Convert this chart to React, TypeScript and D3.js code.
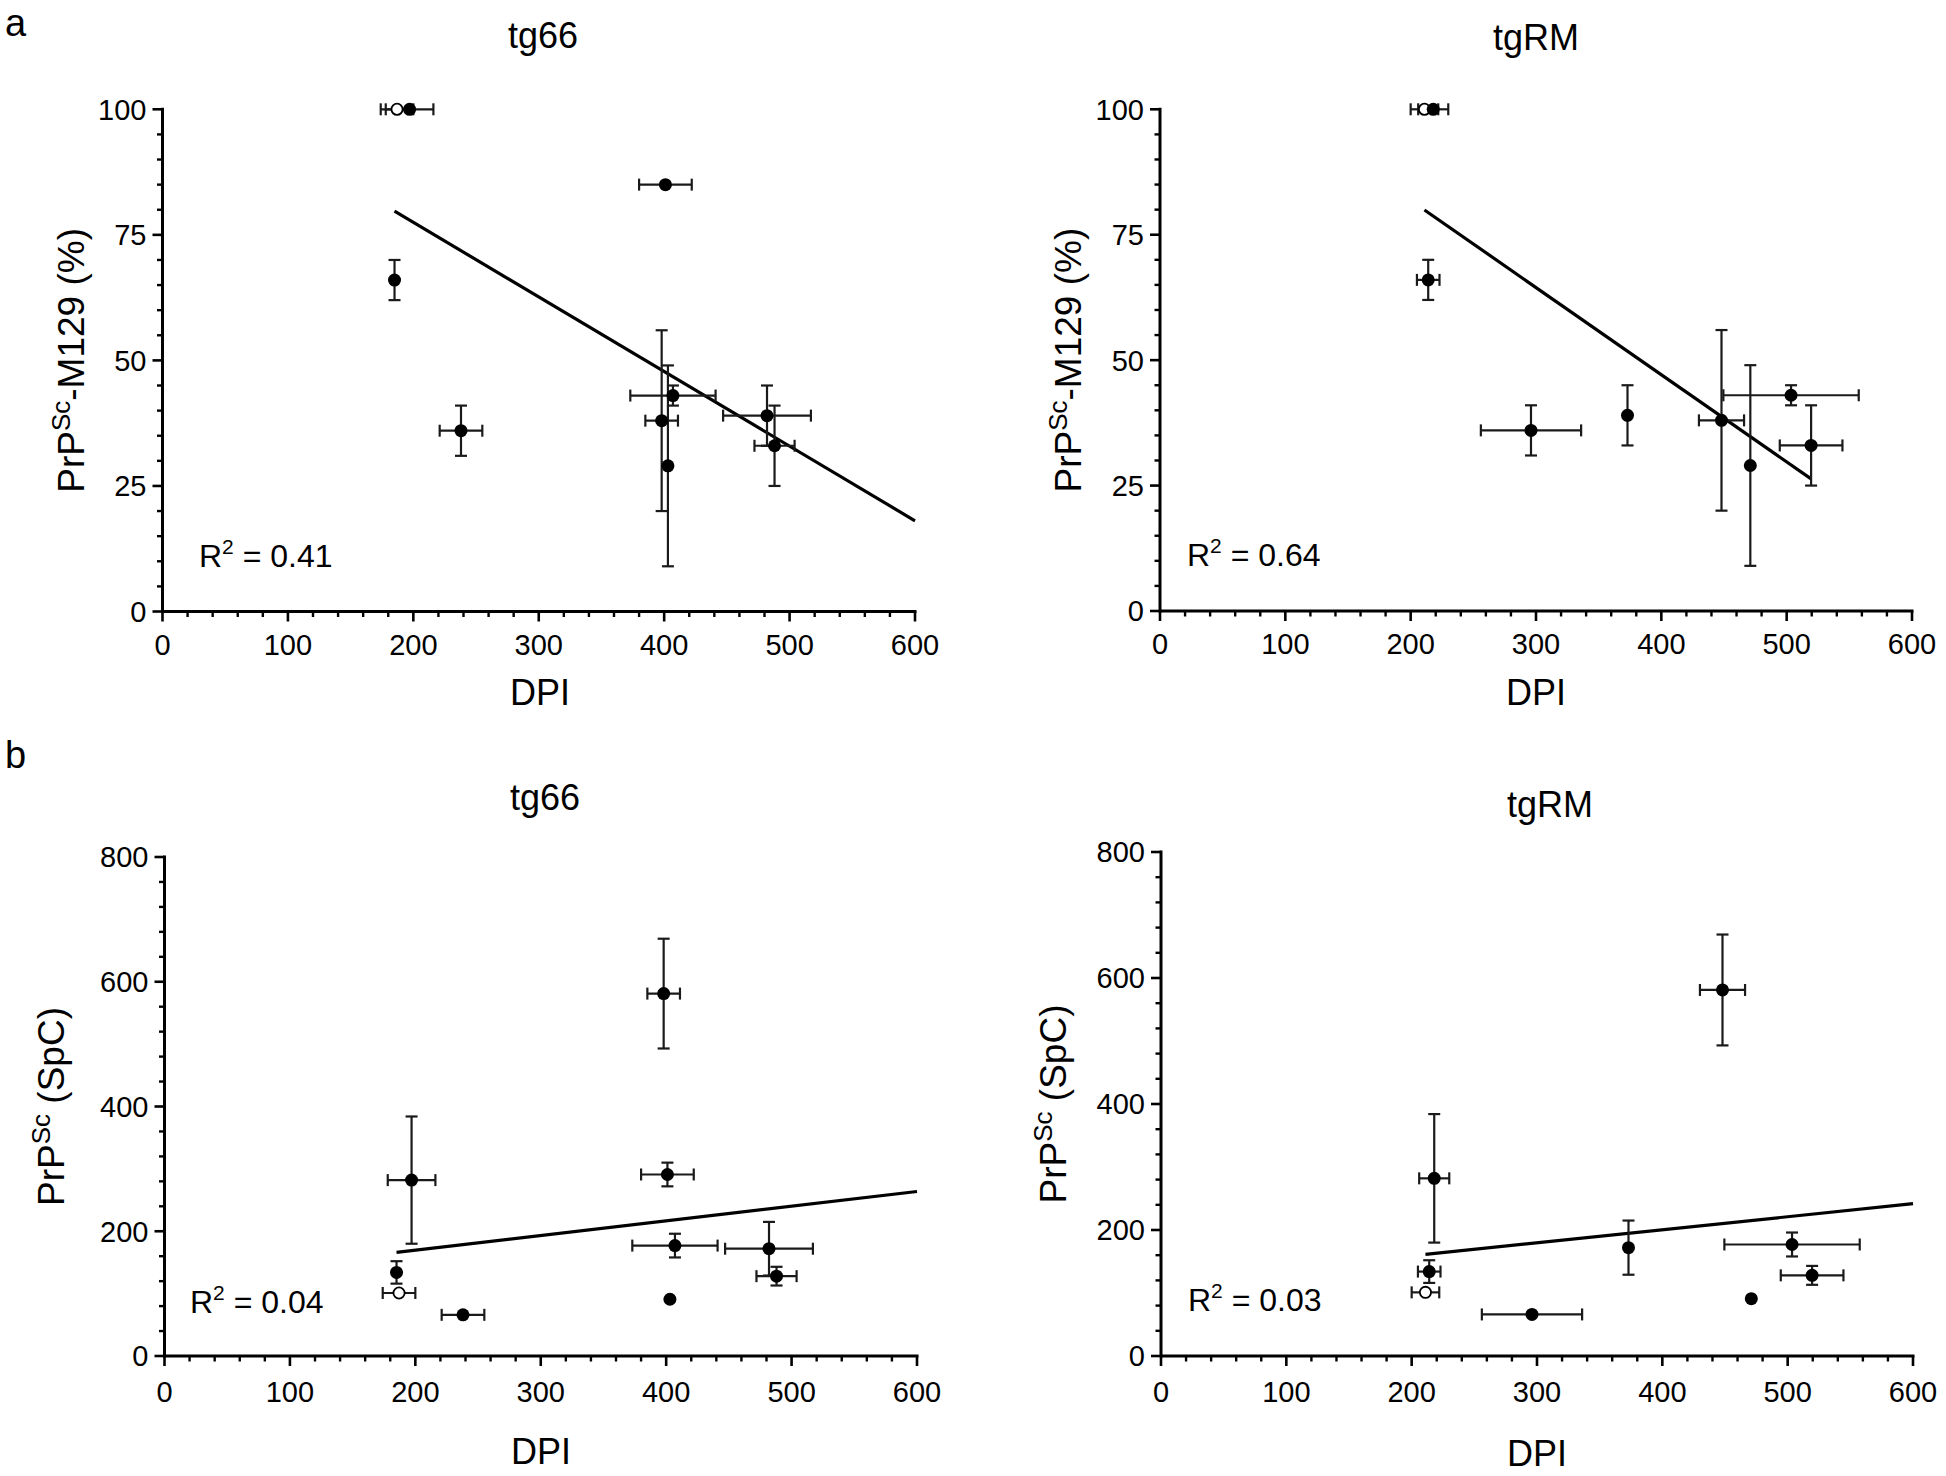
import React from "react";
import * as d3 from "d3";

// ---------------- data ----------------
const sampleIds = ["A", "B", "C", "D", "E", "F", "G", "H", "I", "J"];
const openMarker = [false, false, true, false, false, false, false, false, false, false];

// days post inoculation (mean, SEM) per mouse line; NaN = not tested
const tg66Dpi = [197, 185, 187, 238, 398, 401, 407, 403, 482, 488];
const tg66DpiSem = [19, 0, 13, 17, 13, 21, 34, 0, 35, 16];
const tgRMDpi = [218, 214, 211, 296, 448, NaN, 503.5, 471, 373, 519.5];
const tgRMDpiSem = [12, 9, 11, 40, 18, NaN, 54, 0, 0, 25];

// PrPSc-M129 (%) and PrPSc (SpC), mean and SEM
const m129Pct = [100, 66, 100, 36, 38, 85, 43, 29, 39, 33];
const m129PctSem = [0, 4, 0, 5, 18, 0, 2, 20, 6, 8];
const spcValue = [282, 134, 101, 66, 581, 291, 177, 91, 172, 128];
const spcSem = [102, 18, 0, 0, 88, 19, 19, 0, 43, 15];

const xTicks = [0, 100, 200, 300, 400, 500, 600];
const pctTicks = [0, 25, 50, 75, 100];
const spcTicks = [0, 200, 400, 600, 800];

const FONT = "'Liberation Sans', Arial, Helvetica, sans-serif";

type PanelCfg = {
  key: string;
  title: string;
  dpi: number[];
  dpiErr: number[];
  y: number[];
  yErr: number[];
  yTicks: number[];
  yMinorStep: number;
  yLabel: "pct" | "spc";
  fitToAxisEnd: boolean;
  g: {
    x0: number; x1: number; y0: number; y1: number;
    titleX: number; titleY: number;
    xlabX: number; xlabY: number;
    ylabX: number;
    r2X: number; r2Y: number;
    tickLabY: number;
  };
};

const panels: PanelCfg[] = [
  {
    key: "a-tg66", title: "tg66", dpi: tg66Dpi, dpiErr: tg66DpiSem, y: m129Pct, yErr: m129PctSem,
    yTicks: pctTicks, yMinorStep: 5, yLabel: "pct", fitToAxisEnd: true,
    g: { x0: 162.5, x1: 915, y0: 611.5, y1: 109.3, titleX: 543, titleY: 48, xlabX: 540, xlabY: 705,
      ylabX: 84, r2X: 199, r2Y: 567, tickLabY: 43 },
  },
  {
    key: "a-tgRM", title: "tgRM", dpi: tgRMDpi, dpiErr: tgRMDpiSem, y: m129Pct, yErr: m129PctSem,
    yTicks: pctTicks, yMinorStep: 5, yLabel: "pct", fitToAxisEnd: false,
    g: { x0: 1160, x1: 1912, y0: 611, y1: 109.3, titleX: 1536, titleY: 50, xlabX: 1536, xlabY: 705,
      ylabX: 1081, r2X: 1187, r2Y: 566, tickLabY: 43 },
  },
  {
    key: "b-tg66", title: "tg66", dpi: tg66Dpi, dpiErr: tg66DpiSem, y: spcValue, yErr: spcSem,
    yTicks: spcTicks, yMinorStep: 40, yLabel: "spc", fitToAxisEnd: true,
    g: { x0: 164.5, x1: 917, y0: 1356, y1: 857, titleX: 545, titleY: 810, xlabX: 541, xlabY: 1464,
      ylabX: 64, r2X: 190, r2Y: 1313, tickLabY: 46 },
  },
  {
    key: "b-tgRM", title: "tgRM", dpi: tgRMDpi, dpiErr: tgRMDpiSem, y: spcValue, yErr: spcSem,
    yTicks: spcTicks, yMinorStep: 40, yLabel: "spc", fitToAxisEnd: true,
    g: { x0: 1161, x1: 1913, y0: 1356, y1: 852, titleX: 1550, titleY: 817, xlabX: 1537, xlabY: 1466,
      ylabX: 1066, r2X: 1188, r2Y: 1311, tickLabY: 46 },
  },
];

function linearFit(xs: number[], ys: number[]) {
  const pts = xs.map((x, i) => [x, ys[i]]).filter((p) => !isNaN(p[0]) && !isNaN(p[1]));
  const mx = d3.mean(pts, (p) => p[0]) as number;
  const my = d3.mean(pts, (p) => p[1]) as number;
  const sxy = d3.sum(pts, (p) => (p[0] - mx) * (p[1] - my));
  const sxx = d3.sum(pts, (p) => (p[0] - mx) ** 2);
  const syy = d3.sum(pts, (p) => (p[1] - my) ** 2);
  const slope = sxy / sxx;
  const intercept = my - slope * mx;
  const r2 = (sxy * sxy) / (sxx * syy);
  const xmin = d3.min(pts, (p) => p[0]) as number;
  const xmax = d3.max(pts, (p) => p[0]) as number;
  return { slope, intercept, r2, xmin, xmax };
}

function Panel({ cfg }: { cfg: PanelCfg }) {
  const { g } = cfg;
  const yMax = cfg.yTicks[cfg.yTicks.length - 1];
  const x = d3.scaleLinear().domain([0, 600]).range([g.x0, g.x1]);
  const y = d3.scaleLinear().domain([0, yMax]).range([g.y0, g.y1]);
  const fit = linearFit(cfg.dpi, cfg.y);
  const fitEnd = cfg.fitToAxisEnd ? 600 : fit.xmax;
  const lineGen = d3.line<number>().x((d) => x(d)).y((d) => y(fit.slope * d + fit.intercept));

  const xMinor = d3.range(0, 600 + 0.001, 20).filter((v) => v % 100 !== 0);
  const yMinor = d3.range(0, yMax + 0.001, cfg.yMinorStep).filter((v) => !cfg.yTicks.includes(v));

  const idx = sampleIds.map((_, i) => i).filter((i) => !isNaN(cfg.dpi[i]));
  const order = [...idx.filter((i) => openMarker[i]), ...idx.filter((i) => !openMarker[i])];
  const cap = 6;
  const errColor = "#1a1a1a";

  const cy = (g.y0 + g.y1) / 2;

  return (
    <g fontFamily={FONT}>
      {/* title */}
      <text x={g.titleX} y={g.titleY} fontSize={36} textAnchor="middle" fill="#000">
        {cfg.title}
      </text>

      {/* regression line */}
      <path d={lineGen([fit.xmin, fitEnd]) || ""} stroke="#000" strokeWidth={3.2} fill="none" />

      {/* error bars */}
      {order.map((i) => {
        const px = x(cfg.dpi[i]);
        const py = y(cfg.y[i]);
        const xe = cfg.dpiErr[i];
        const ye = cfg.yErr[i];
        return (
          <g key={"e" + i} stroke={errColor} strokeWidth={2.2} fill="none">
            {xe > 0 && (
              <>
                <line x1={x(cfg.dpi[i] - xe)} x2={x(cfg.dpi[i] + xe)} y1={py} y2={py} />
                <line x1={x(cfg.dpi[i] - xe)} x2={x(cfg.dpi[i] - xe)} y1={py - cap} y2={py + cap} />
                <line x1={x(cfg.dpi[i] + xe)} x2={x(cfg.dpi[i] + xe)} y1={py - cap} y2={py + cap} />
              </>
            )}
            {ye > 0 && (
              <>
                <line x1={px} x2={px} y1={y(cfg.y[i] - ye)} y2={y(cfg.y[i] + ye)} />
                <line x1={px - cap} x2={px + cap} y1={y(cfg.y[i] - ye)} y2={y(cfg.y[i] - ye)} />
                <line x1={px - cap} x2={px + cap} y1={y(cfg.y[i] + ye)} y2={y(cfg.y[i] + ye)} />
              </>
            )}
          </g>
        );
      })}

      {/* markers */}
      {order.map((i) =>
        openMarker[i] ? (
          <circle key={"m" + i} cx={x(cfg.dpi[i])} cy={y(cfg.y[i])} r={5.6} fill="#fff" stroke="#000" strokeWidth={1.8} />
        ) : (
          <circle key={"m" + i} cx={x(cfg.dpi[i])} cy={y(cfg.y[i])} r={6.5} fill="#000" />
        )
      )}

      {/* axes */}
      <line x1={g.x0} x2={g.x1 + 1.5} y1={g.y0} y2={g.y0} stroke="#000" strokeWidth={3} />
      <line x1={g.x0} x2={g.x0} y1={g.y0 + 1.5} y2={g.y1 - 1.5} stroke="#000" strokeWidth={3} />
      {xTicks.map((t) => (
        <g key={"xt" + t}>
          <line x1={x(t)} x2={x(t)} y1={g.y0} y2={g.y0 + 10} stroke="#000" strokeWidth={2.6} />
          <text x={x(t)} y={g.y0 + g.tickLabY} fontSize={29} textAnchor="middle" fill="#000">
            {t}
          </text>
        </g>
      ))}
      {xMinor.map((t) => (
        <line key={"xm" + t} x1={x(t)} x2={x(t)} y1={g.y0} y2={g.y0 + 5.5} stroke="#000" strokeWidth={2.4} />
      ))}
      {cfg.yTicks.map((t) => (
        <g key={"yt" + t}>
          <line x1={g.x0 - 10} x2={g.x0} y1={y(t)} y2={y(t)} stroke="#000" strokeWidth={2.6} />
          <text x={g.x0 - 16} y={y(t) + 10.4} fontSize={29} textAnchor="end" fill="#000">
            {t}
          </text>
        </g>
      ))}
      {yMinor.map((t) => (
        <line key={"ym" + t} x1={g.x0 - 5.5} x2={g.x0} y1={y(t)} y2={y(t)} stroke="#000" strokeWidth={2.4} />
      ))}

      {/* axis labels */}
      <text x={g.xlabX} y={g.xlabY} fontSize={36} textAnchor="middle" fill="#000">
        DPI
      </text>
      <text transform={`translate(${g.ylabX},${cy}) rotate(-90)`} fontSize={37} textAnchor="middle" fill="#000">
        PrP
        <tspan fontSize={26} dy={-14}>
          Sc
        </tspan>
        <tspan dy={14}>{cfg.yLabel === "pct" ? "-M129 (%)" : " (SpC)"}</tspan>
      </text>

      {/* R squared */}
      <text x={g.r2X} y={g.r2Y} fontSize={32} fill="#000">
        R
        <tspan fontSize={21} dy={-13}>
          2
        </tspan>
        <tspan dy={13}>{" = " + fit.r2.toFixed(2)}</tspan>
      </text>
    </g>
  );
}

export default function App() {
  React.useEffect(() => {
    document.body.style.margin = "0";
    document.body.style.overflow = "hidden";
  }, []);
  return (
    <div style={{ position: "absolute", left: 0, top: 0, width: 1946, height: 1476, background: "#fff" }}>
      <svg width={1946} height={1476} viewBox="0 0 1946 1476" style={{ display: "block" }}>
        <rect x={0} y={0} width={1946} height={1476} fill="#fff" />
        <text x={5} y={36} fontSize={38} fontFamily={FONT} fill="#000">
          a
        </text>
        <text x={5} y={768} fontSize={38} fontFamily={FONT} fill="#000">
          b
        </text>
        {panels.map((p) => (
          <Panel key={p.key} cfg={p} />
        ))}
      </svg>
    </div>
  );
}
